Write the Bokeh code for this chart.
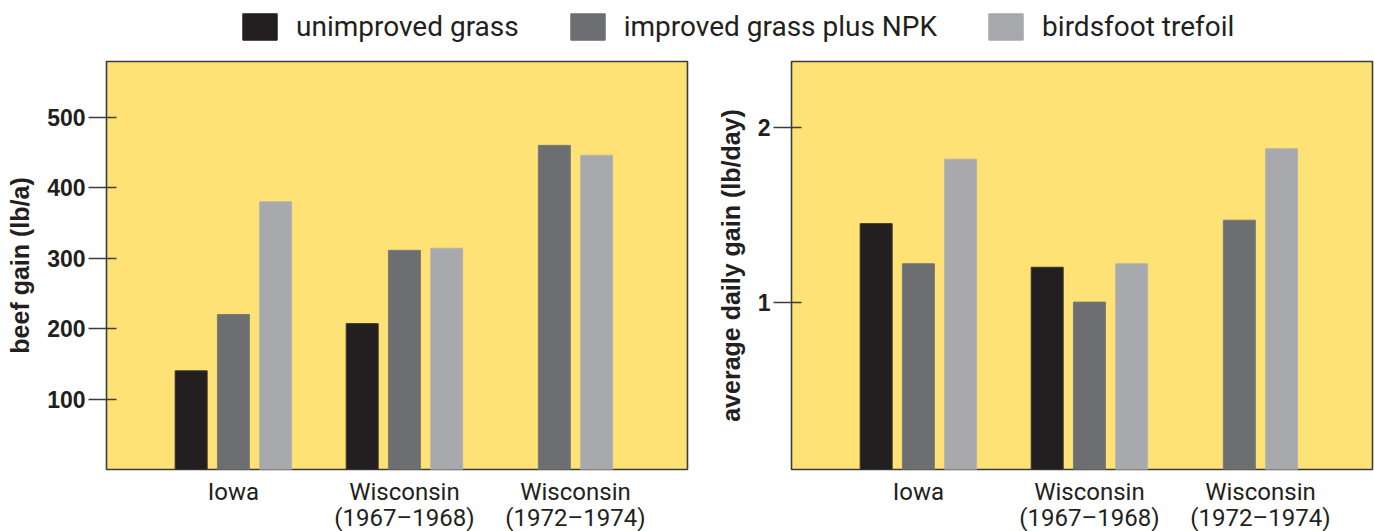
from bokeh.plotting import figure
from bokeh.models import (ColumnDataSource, FixedTicker, Range1d, Legend, LegendItem)
from bokeh.layouts import column, row
from bokeh.embed import file_html
from bokeh.resources import INLINE

# ---- data ----
categories = ["Iowa", "Wisconsin\n(1967\u20131968)", "Wisconsin\n(1972\u20131974)"]
series_names = ["unimproved grass", "improved grass plus NPK", "birdsfoot trefoil"]
series_colors = ["#231F20", "#6D6E71", "#A7A9AC"]
series_lines = ["#3A332C", "#7A7A78", "#B4B4B2"]

beef_unimproved = [140, 207, None]
beef_improved = [220, 311, 460]
beef_trefoil = [380, 314, 446]

adg_unimproved = [1.45, 1.20, None]
adg_improved = [1.22, 1.00, 1.47]
adg_trefoil = [1.82, 1.22, 1.88]

beef_ticks = [100, 200, 300, 400, 500]
adg_ticks = [1, 2]

YELLOW = "#FFE276"
FRAME = "#3C3C3C"
NARROW = "Roboto"
SANS = "Liberation Sans"

STEP = 0.247
BAR_W = 0.187


def positions(series_list):
    """x positions for each series' bars, centering the present bars in each group."""
    out = [[] for _ in series_list]
    for ci in range(len(categories)):
        present = [si for si, s in enumerate(series_list) if s[ci] is not None]
        n = len(present)
        for k, si in enumerate(present):
            out[si].append((ci + (k - (n - 1) / 2) * STEP, series_list[si][ci]))
    return out


def make_plot(series_list, ticks, y_range, ylabel, border_left, border_right):
    p = figure(frame_width=581, frame_height=408, output_backend="svg", toolbar_location=None,
               x_range=Range1d(-0.742, 2.655), y_range=Range1d(*y_range),
               min_border_left=border_left, min_border_right=border_right,
               min_border_top=8, min_border_bottom=60)
    p.background_fill_color = YELLOW
    p.border_fill_color = "white"
    p.outline_line_color = FRAME
    p.outline_line_width = 1.6
    p.grid.visible = False

    for si, pts in enumerate(positions(series_list)):
        src = ColumnDataSource(dict(x=[a for a, _ in pts], top=[b for _, b in pts]))
        p.vbar(x="x", top="top", bottom=y_range[0], width=BAR_W, source=src,
               fill_color=series_colors[si], line_color=series_lines[si], line_width=1)

    # y axis
    ya = p.yaxis[0]
    ya.ticker = FixedTicker(ticks=ticks)
    ya.minor_tick_line_color = None
    ya.axis_line_color = None
    ya.major_tick_out = 18
    ya.major_tick_in = 10
    ya.major_tick_line_color = FRAME
    ya.major_tick_line_width = 1.6
    ya.major_label_standoff = 3
    ya.major_label_text_font = SANS
    ya.major_label_text_font_style = "bold"
    ya.major_label_text_font_size = "23px"
    ya.major_label_text_color = "#231F20"
    ya.axis_label = ylabel
    ya.axis_label_text_font = SANS
    ya.axis_label_text_font_style = "bold"
    ya.axis_label_text_font_size = "25px"
    ya.axis_label_text_color = "#231F20"
    ya.axis_label_standoff = 10

    # x axis
    xa = p.xaxis[0]
    xa.ticker = FixedTicker(ticks=list(range(len(categories))))
    xa.major_label_overrides = {i: c for i, c in enumerate(categories)}
    xa.minor_tick_line_color = None
    xa.major_tick_line_color = None
    xa.axis_line_color = None
    xa.major_tick_out = 0
    xa.major_label_standoff = 8
    xa.major_label_text_font = NARROW
    xa.major_label_text_font_size = "24px"
    xa.major_label_text_color = "#231F20"
    xa.major_label_text_line_height = 0.95
    return p


p1 = make_plot([beef_unimproved, beef_improved, beef_trefoil], beef_ticks,
               (0, 579), "beef gain (lb/a)", 106, 13)
p2 = make_plot([adg_unimproved, adg_improved, adg_trefoil], adg_ticks,
               (0.04, 2.38), "average daily gain (lb/day)", 91, 2)

# ---- legend strip ----
lg = figure(width=1374, height=53, output_backend="svg", toolbar_location=None,
            x_range=Range1d(0, 1), y_range=Range1d(0, 1),
            min_border=0, outline_line_color=None)
lg.axis.visible = False
lg.grid.visible = False
items = []
for name, col in zip(series_names, series_colors):
    r = lg.vbar(x=[-5], top=[0], bottom=[-1], width=0.1, fill_color=col, line_color=col)
    items.append(LegendItem(label=name, renderers=[r]))
leg = Legend(items=items, orientation="horizontal", location=(238, 10),
             glyph_width=43, glyph_height=33, label_standoff=15, spacing=47,
             padding=0, margin=0, border_line_color=None, background_fill_alpha=0,
             label_text_font=NARROW, label_text_font_style="normal",
             label_text_font_size="28px", label_text_color="#231F20",
             label_height=33)
lg.add_layout(leg, "center")

layout = column(lg, row(p1, p2, spacing=0), spacing=0)
open("out.html", "w").write(file_html(layout, INLINE))
